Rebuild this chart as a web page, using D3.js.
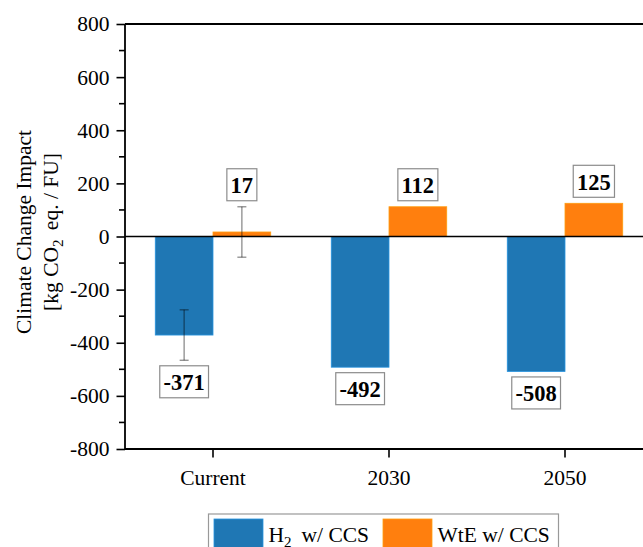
<!DOCTYPE html>
<html>
<head>
<meta charset="utf-8">
<script src="https://cdn.jsdelivr.net/npm/d3@7"></script>
<style>
    body { margin: 0; background: #fff; }
    svg { display: block; font-family: "Liberation Serif", "Times New Roman", serif; }
</style>
</head>
<body>
<div id="chart"></div>
<script>
// chart data
const categories = ["Current", "2030", "2050"];
const seriesNames = ["H2 w/ CCS", "WtE w/ CCS"];
const h2Values = [-371, -492, -508];
const wteValues = [17, 112, 125];
const h2Errors = [95, null, null];
const wteErrors = [95, null, null];
const yTicks = [-800, -600, -400, -200, 0, 200, 400, 600, 800];
const yMinorTicks = [-700, -500, -300, -100, 100, 300, 500, 700];
const colors = ["#1f77b4", "#ff7f0e"];

const width = 643, height = 547;
const plot = {left: 125, top: 24, bottom: 449, right: 653};

const svg = d3.select("#chart")
    .append("svg")
    .attr("width", width)
    .attr("height", height);

const y = d3.scaleLinear().domain([-800, 800]).range([plot.bottom, plot.top]);

const x0 = d3.scaleBand()
    .domain(categories)
    .range([plot.left, plot.right])
    .paddingInner(0.344)
    .paddingOuter(0.172);

const x1 = d3.scaleBand()
    .domain(seriesNames)
    .range([0, x0.bandwidth()]);

// rows for each bar
const rows = [];
categories.forEach((c, i) => {
    rows.push({cat: c, series: seriesNames[0], value: h2Values[i], err: h2Errors[i], color: colors[0]});
    rows.push({cat: c, series: seriesNames[1], value: wteValues[i], err: wteErrors[i], color: colors[1]});
});

// bars
svg.selectAll("rect.bar")
    .data(rows)
    .enter().append("rect")
    .attr("class", "bar")
    .attr("x", d => x0(d.cat) + x1(d.series))
    .attr("width", x1.bandwidth())
    .attr("y", d => y(Math.max(0, d.value)))
    .attr("height", d => Math.abs(y(d.value) - y(0)))
    .attr("fill", d => d.color)
    .attr("stroke", d => d3.color(d.color).brighter(0.6))
    .attr("stroke-width", 0.8);

// zero line
svg.append("line")
    .attr("x1", plot.left).attr("x2", width)
    .attr("y1", y(0)).attr("y2", y(0))
    .attr("stroke", "#000").attr("stroke-width", 1.5);

// error bars
const errRows = rows.filter(d => d.err != null);
const eg = svg.selectAll("g.err")
    .data(errRows)
    .enter().append("g")
    .attr("class", "err")
    .attr("stroke", "#000")
    .attr("stroke-opacity", 0.42)
    .attr("stroke-width", 1.4);
const cx = d => x0(d.cat) + x1(d.series) + x1.bandwidth() / 2;
eg.append("line")
    .attr("x1", cx).attr("x2", cx)
    .attr("y1", d => y(d.value + d.err)).attr("y2", d => y(d.value - d.err));
eg.append("line")
    .attr("x1", d => cx(d) - 4.5).attr("x2", d => cx(d) + 4.5)
    .attr("y1", d => y(d.value + d.err)).attr("y2", d => y(d.value + d.err));
eg.append("line")
    .attr("x1", d => cx(d) - 4.5).attr("x2", d => cx(d) + 4.5)
    .attr("y1", d => y(d.value - d.err)).attr("y2", d => y(d.value - d.err));

// value labels in boxes
const labels = svg.selectAll("g.vlabel")
    .data(rows)
    .enter().append("g")
    .attr("class", "vlabel");

labels.each(function(d) {
    const g = d3.select(this);
    const e = d.err || 0;
    const text = g.append("text")
        .attr("x", cx(d))
        .attr("text-anchor", "middle")
        .attr("font-size", 22.5)
        .attr("font-weight", "bold")
        .text(d.value);
    const w = text.node().getComputedTextLength() + 7.5;
    const h = 32;
    let top;
    if (d.value >= 0) {
        top = y(d.value + e) - 6 - h;
    } else {
        top = y(d.value - e) + 5.5;
    }
    text.attr("y", top + 24.3);
    g.insert("rect", "text")
        .attr("x", cx(d) - w / 2)
        .attr("y", top)
        .attr("width", w)
        .attr("height", h)
        .attr("fill", "#fff")
        .attr("stroke", "#8c8c8c")
        .attr("stroke-width", 1.2);
});

// y axis
const yAxis = svg.append("g")
    .attr("transform", `translate(${plot.left},0)`)
    .call(d3.axisLeft(y).tickValues(yTicks).tickSize(8.5).tickPadding(7).tickFormat(d3.format("d")));
yAxis.select(".domain").attr("stroke-width", 1.8).attr("d", `M-0,${plot.top}V${plot.bottom}`);
yAxis.selectAll(".tick line").attr("stroke-width", 1.6);
yAxis.selectAll(".tick text")
    .attr("font-family", "Liberation Serif, serif")
    .attr("font-size", 21.5)
    .attr("fill", "#000")
    .text(d => d < 0 ? "-" + Math.abs(d) : d);
yAxis.selectAll(".minor")
    .data(yMinorTicks)
    .enter().append("line")
    .attr("class", "minor")
    .attr("x1", -6).attr("x2", 0)
    .attr("y1", d => y(d)).attr("y2", d => y(d))
    .attr("stroke", "#000").attr("stroke-width", 1.6);

// x axis
const xAxis = svg.append("g")
    .attr("transform", `translate(0,${plot.bottom})`)
    .call(d3.axisBottom(x0).tickSize(8.5).tickPadding(12));
xAxis.select(".domain").attr("stroke-width", 1.8).attr("d", `M${plot.left},0H${width}`);
xAxis.selectAll(".tick line").attr("stroke-width", 1.6);
xAxis.selectAll(".tick text")
    .attr("font-family", "Liberation Serif, serif")
    .attr("font-size", 21.5)
    .attr("fill", "#000");

// top frame line
svg.append("line")
    .attr("x1", plot.left).attr("x2", width)
    .attr("y1", plot.top).attr("y2", plot.top)
    .attr("stroke", "#000").attr("stroke-width", 1.8);

// y title
const title = svg.append("text")
    .attr("transform", "translate(31,232) rotate(-90)")
    .attr("text-anchor", "middle")
    .attr("font-size", 21.5);
title.append("tspan").attr("x", 0).attr("y", 0).text("Climate Change Impact");
const t2 = title.append("tspan").attr("x", 0).attr("y", 27);
t2.append("tspan").text("[kg CO");
t2.append("tspan").attr("font-size", 15).attr("dy", 5).text("2");
t2.append("tspan").attr("dy", -5).attr("dx", 4).text(" eq. / FU]");

// legend
const legend = svg.append("g");
legend.append("rect")
    .attr("x", 208.5).attr("y", 514)
    .attr("width", 350).attr("height", 45)
    .attr("fill", "#fff")
    .attr("stroke", "#999").attr("stroke-width", 1.2);
const legendX = [214, 383];
seriesNames.forEach((s, i) => {
    legend.append("rect")
        .attr("x", legendX[i]).attr("y", 519)
        .attr("width", 49).attr("height", 40)
        .attr("fill", colors[i])
        .attr("stroke", d3.color(colors[i]).brighter(0.6))
        .attr("stroke-width", 0.8);
});
const l1 = legend.append("text")
    .attr("x", 268.5).attr("y", 542)
    .attr("font-size", 21.5);
l1.append("tspan").text("H");
l1.append("tspan").attr("font-size", 15).attr("dy", 5).text("2");
l1.append("tspan").attr("dy", -5).attr("x", 301.5).text("w/ CCS");
legend.append("text")
    .attr("x", 437.5).attr("y", 542)
    .attr("font-size", 21.5)
    .text("WtE w/ CCS");
</script>
</body>
</html>
